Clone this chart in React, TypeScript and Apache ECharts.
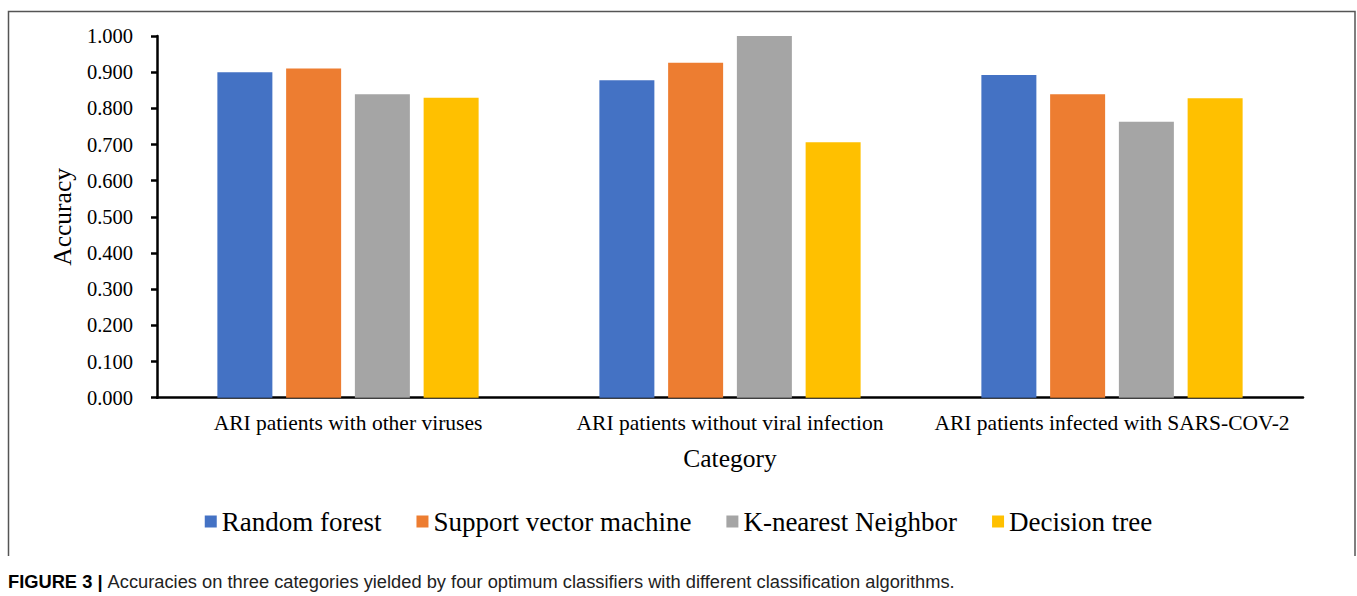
import React, { useEffect, useRef } from "react";
import * as echarts from "echarts";

const categories = [
  "ARI patients with other viruses",
  "ARI patients without viral infection",
  "ARI patients infected with SARS-COV-2",
];
const seriesNames = ["Random forest", "Support vector machine", "K-nearest Neighbor", "Decision tree"];
const randomForest = [0.9, 0.878, 0.892];
const supportVector = [0.91, 0.926, 0.839];
const kNearest = [0.839, 1.0, 0.763];
const decisionTree = [0.829, 0.706, 0.828];
const colors = ["#4472C4", "#ED7D31", "#A5A5A5", "#FFC000"];
const captionBold = "FIGURE 3 | ";
const captionText =
  "Accuracies on three categories yielded by four optimum classifiers with different classification algorithms.";

export default function App() {
  const ref = useRef<HTMLDivElement>(null);
  useEffect(() => {
    if (!ref.current) return;
    const chart = echarts.init(ref.current, undefined, { renderer: "svg" });
    const serif = "'Liberation Serif', 'Times New Roman', serif";
    const sans = "'Liberation Sans', Arial, sans-serif";
    const values = [randomForest, supportVector, kNearest, decisionTree];
    chart.setOption({
      animation: false,
      backgroundColor: "#ffffff",
      color: colors,
      textStyle: { fontFamily: serif, color: "#000" },
      grid: { left: 157, right: 54, top: 36, bottom: 198.3, containLabel: false },
      legend: {
        top: 503,
        left: "center",
        itemWidth: 12,
        itemHeight: 12,
        itemGap: 35,
        icon: "rect",
        textStyle: { fontFamily: serif, fontSize: 27, color: "#000", padding: [0, 0, 0, 0] },
        data: seriesNames,
      },
      xAxis: {
        type: "category",
        data: categories,
        name: "Category",
        nameLocation: "middle",
        nameGap: 48,
        nameTextStyle: { fontFamily: serif, fontSize: 25.5, color: "#000" },
        axisLine: { lineStyle: { color: "#000", width: 2.5 } },
        axisTick: { show: false },
        axisLabel: { fontFamily: serif, fontSize: 21.5, color: "#000", margin: 14, interval: 0 },
      },
      yAxis: {
        type: "value",
        min: 0,
        max: 1,
        interval: 0.1,
        name: "Accuracy",
        nameLocation: "middle",
        nameGap: 80,
        nameTextStyle: { fontFamily: serif, fontSize: 25.5, color: "#000" },
        axisLine: { show: true, lineStyle: { color: "#000", width: 2.5 } },
        axisTick: { show: true, length: 6, lineStyle: { color: "#000", width: 2.5 } },
        splitLine: { show: false },
        axisLabel: {
          fontFamily: serif,
          fontSize: 20.5,
          color: "#000",
          margin: 24,
          formatter: (v: number) => v.toFixed(3),
        },
      },
      series: seriesNames.map((name, i) => ({
        name,
        type: "bar",
        data: values[i],
        barWidth: 55,
        barGap: "25%",
        itemStyle: { color: colors[i] },
      })),
      graphic: [
        {
          type: "polyline",
          shape: { points: [[8.5, 556], [8.5, 11.5], [1355, 11.5], [1355, 556]] },
          style: { stroke: "#555", lineWidth: 1.5, fill: "none" },
          silent: true,
        },
        {
          type: "text",
          left: 8,
          top: 572,
          style: {
            text: "{b|" + captionBold + "}{r|" + captionText + "}",
            rich: {
              b: { fontFamily: sans, fontWeight: "bold", fontSize: 18.3, fill: "#000" },
              r: { fontFamily: sans, fontSize: 18.3, fill: "#222" },
            },
          },
        },
      ],
    });
    return () => chart.dispose();
  }, []);
  return (
    <div
      ref={ref}
      style={{ position: "fixed", left: 0, top: 0, width: 1357, height: 596, background: "#fff" }}
    />
  );
}
